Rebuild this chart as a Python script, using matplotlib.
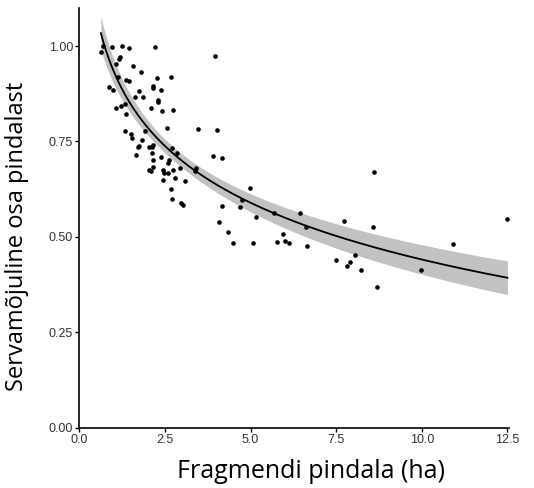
"""
Edge-affected share of area vs fragment area, with log fit and 95% CI.

Output: out.png
"""

import matplotlib.pyplot as plt
import numpy as np

# fragment area (ha) and edge-affected share
area = [
    0.63, 0.68, 0.95, 1.25, 1.46, 2.20, 3.96,
    1.20, 1.15, 1.07, 1.56, 1.80,
    1.12, 1.36, 1.44, 2.26, 2.67,
    0.88, 0.98, 1.75, 2.14, 2.15, 2.38,
    1.63, 1.87, 2.31, 2.29,
    1.07, 1.22, 1.33, 2.08, 2.41, 2.73,
    1.36,
    2.56, 3.47, 4.03,
    1.33, 1.92, 1.50, 1.54, 1.82,
    1.75, 1.72, 2.04, 2.11, 2.16, 2.70, 2.85,
    1.65, 2.11, 2.39, 3.91, 4.16,
    2.14, 2.15, 2.62, 2.58,
    2.04, 2.09, 2.45, 2.47, 2.60, 2.73, 2.94, 3.38, 3.42,
    2.43, 2.78, 3.09,
    2.68, 4.98,
    2.72, 2.97, 3.03, 4.18, 4.68, 4.74,
    5.16, 4.09, 4.35, 5.68, 6.44,
    4.50, 5.06, 5.76, 5.94, 6.01, 6.13,
    6.63, 6.66, 7.74, 8.56, 8.60,
    7.50, 7.81, 7.90, 8.04, 8.22, 8.68,
    9.97, 10.90, 12.50,
]
share = [
    0.985, 1.000, 0.998, 1.000, 0.994, 0.997, 0.973,
    0.972, 0.966, 0.952, 0.948, 0.933,
    0.919, 0.910, 0.908, 0.916, 0.918,
    0.893, 0.886, 0.882, 0.895, 0.889, 0.885,
    0.866, 0.866, 0.859, 0.853,
    0.839, 0.844, 0.849, 0.837, 0.830, 0.832,
    0.823,
    0.785, 0.784, 0.779,
    0.778, 0.778, 0.770, 0.759, 0.753,
    0.739, 0.735, 0.735, 0.735, 0.742, 0.733, 0.721,
    0.715, 0.719, 0.709, 0.712, 0.708,
    0.701, 0.684, 0.702, 0.695,
    0.675, 0.672, 0.675, 0.668, 0.667, 0.676, 0.680, 0.674, 0.680,
    0.649, 0.655, 0.646,
    0.625, 0.628,
    0.599, 0.588, 0.585, 0.582, 0.578, 0.596,
    0.552, 0.540, 0.514, 0.563, 0.564,
    0.485, 0.483, 0.488, 0.508, 0.490, 0.485,
    0.525, 0.477, 0.542, 0.527, 0.671,
    0.440, 0.425, 0.434, 0.454, 0.413, 0.370,
    0.413, 0.481, 0.547,
]

x_ticks = [0.0, 2.5, 5.0, 7.5, 10.0, 12.5]
y_ticks = [0.00, 0.25, 0.50, 0.75, 1.00]


def log_fit(x, y):
    """OLS of y on ln(x) with 95% confidence band for the mean."""
    lx = np.log(x)
    X = np.column_stack([np.ones_like(lx), lx])
    beta, *_ = np.linalg.lstsq(X, y, rcond=None)
    resid = y - X @ beta
    n = len(y)
    s2 = resid @ resid / (n - 2)
    cov = s2 * np.linalg.inv(X.T @ X)
    grid = np.linspace(x.min(), x.max(), 200)
    G = np.column_stack([np.ones_like(grid), np.log(grid)])
    fit = G @ beta
    se = np.sqrt(np.einsum("ij,jk,ik->i", G, cov, G))
    return grid, fit, fit - 1.98 * se, fit + 1.98 * se


def plot():
    x = np.array(area)
    y = np.array(share)
    grid, fit, lo, hi = log_fit(x, y)

    fig = plt.figure(figsize=(5.34, 4.88), dpi=100)
    ax = fig.add_axes([0.1485, 0.123, 0.805, 0.861])

    ax.fill_between(grid, lo, hi, color="#c2c2c2", lw=0, zorder=1)
    ax.scatter(x, y, s=11, color="black", lw=0, zorder=2)
    ax.plot(grid, fit, color="black", lw=1.3, zorder=3)

    ax.set_xlim(0, 12.55)
    ax.set_ylim(0, 1.10)
    ax.set_xticks(x_ticks)
    ax.set_xticklabels([f"{t:.1f}" for t in x_ticks])
    ax.set_yticks(y_ticks)
    ax.set_yticklabels([f"{t:.2f}" for t in y_ticks])

    for side in ("top", "right"):
        ax.spines[side].set_visible(False)
    for side in ("left", "bottom"):
        ax.spines[side].set_linewidth(1.2)
    ax.tick_params(length=3, width=1.0, pad=1.5, labelsize=9,
                   labelcolor="#333333", labelfontfamily="Liberation Sans")

    ax.set_xlabel("Fragmendi pindala (ha)", fontsize=18, family="Open Sans")
    ax.set_ylabel("Servamõjuline osa pindalast", fontsize=17, family="Open Sans")
    ax.xaxis.set_label_coords(0.54, -0.075)
    ax.yaxis.set_label_coords(-0.118, 0.455)

    fig.savefig("out.png", dpi=100)


if __name__ == "__main__":
    plot()
